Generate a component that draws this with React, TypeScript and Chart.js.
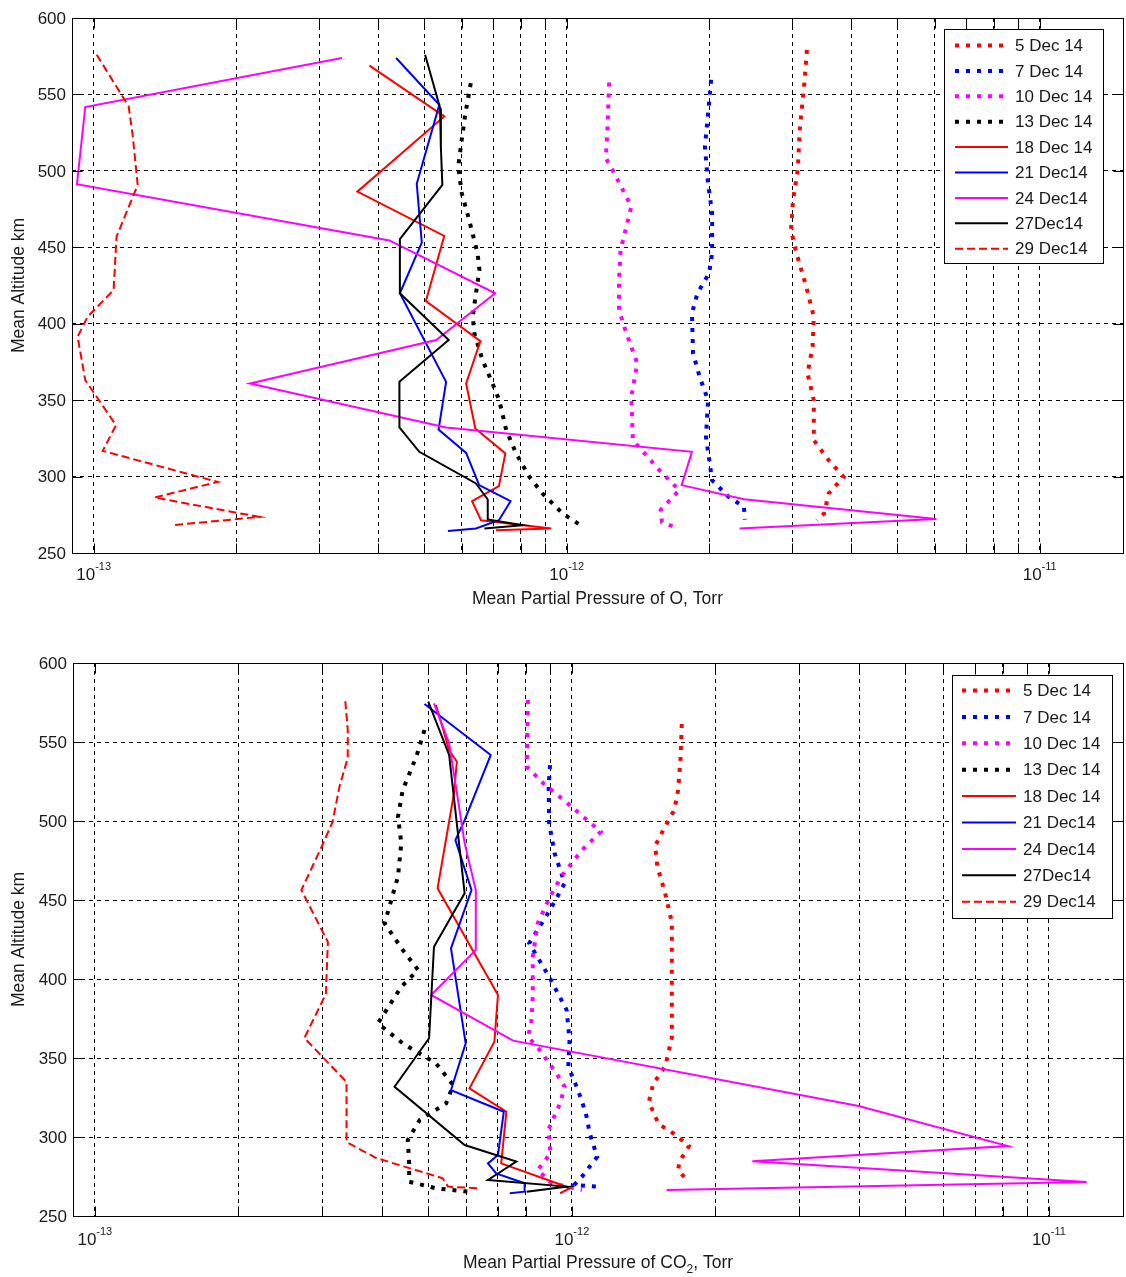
import React, { useEffect, useRef } from "react";
import { Chart, registerables } from "chart.js";

Chart.register(...registerables);

// ---- axes ----
const altTicks = [250, 300, 350, 400, 450, 500, 550, 600];
const pressureGridTicks = [
  1e-13, 2e-13, 3e-13, 4e-13, 5e-13, 6e-13, 7e-13, 8e-13, 9e-13,
  1e-12, 2e-12, 3e-12, 4e-12, 5e-12, 6e-12, 7e-12, 8e-12, 9e-12,
  1e-11,
];
const decadeTicks = [1e-13, 1e-12, 1e-11];
const decadeExponents = ["-13", "-12", "-11"];

// ---- legend / series styling ----
const seriesLabels = [
  "5 Dec 14", "7 Dec 14", "10 Dec 14", "13 Dec 14", "18 Dec 14",
  "21 Dec14", "24 Dec14", "27Dec14", "29 Dec14",
];
const seriesColors = [
  "#ff0000", "#0000ff", "#ff00ff", "#000000", "#ff0000",
  "#0000ff", "#ff00ff", "#000000", "#ff0000",
];
const seriesStyles = ["dot", "dot", "dot", "dot", "solid", "solid", "solid", "solid", "dash"];

// ---- atomic oxygen partial pressure (Torr) vs mean altitude (km) ----
const o5Alt = [579.2, 557.4, 526.8, 500.6, 481, 461.3, 446.1, 424.2, 404.6, 385, 367.5, 350, 323.8, 310.7, 299.8, 288.9, 275.8, 271.4];
const o5P = [3.22e-12, 3.18e-12, 3.11e-12, 3.08e-12, 3.01e-12, 2.98e-12, 3.06e-12, 3.21e-12, 3.33e-12, 3.31e-12, 3.23e-12, 3.33e-12, 3.33e-12, 3.58e-12, 3.85e-12, 3.58e-12, 3.5e-12, 3.38e-12];
const o7Alt = [559.6, 544.3, 515.9, 491.9, 472.3, 446.1, 433, 419.9, 406.8, 380.6, 365.3, 350, 326, 297.6, 286.7, 280.2, 271.9];
const o7P = [2.02e-12, 2.0e-12, 1.96e-12, 1.99e-12, 2.03e-12, 2.03e-12, 2.0e-12, 1.89e-12, 1.84e-12, 1.85e-12, 1.91e-12, 1.99e-12, 1.97e-12, 2.03e-12, 2.2e-12, 2.37e-12, 2.38e-12];
const o10Alt = [557.8, 529, 508.3, 500.6, 476.6, 448.3, 428.6, 409, 395.9, 374, 352.2, 323.8, 304.2, 291.1, 278.2, 270.3, 267];
const o10P = [1.23e-12, 1.22e-12, 1.21e-12, 1.25e-12, 1.37e-12, 1.3e-12, 1.29e-12, 1.29e-12, 1.33e-12, 1.41e-12, 1.37e-12, 1.38e-12, 1.57e-12, 1.73e-12, 1.58e-12, 1.59e-12, 1.69e-12];
const o13Alt = [557.4, 537.8, 520.3, 502.8, 485.4, 467.9, 446.1, 435.2, 419.9, 404.6, 393.7, 376.2, 360.9, 350, 330.4, 315.1, 299.8, 288.9, 275.8, 266.6];
const o13P = [6.27e-13, 6.11e-13, 6.0e-13, 5.9e-13, 6.0e-13, 6.22e-13, 6.48e-13, 6.54e-13, 6.43e-13, 6.33e-13, 6.38e-13, 6.64e-13, 6.97e-13, 7.2e-13, 7.45e-13, 7.82e-13, 8.34e-13, 8.89e-13, 9.81e-13, 1.09e-12];
const o18Alt = [568.8, 535.6, 486.4, 457.4, 414.8, 388.6, 360.9, 331.5, 315.1, 293.7, 283.9, 271.4, 266, 264.9];
const o18P = [3.83e-13, 5.51e-13, 3.61e-13, 5.51e-13, 5.04e-13, 6.57e-13, 6.13e-13, 6.41e-13, 7.42e-13, 7.19e-13, 6.31e-13, 6.59e-13, 9.28e-13, 7.09e-13];
const o21Alt = [573.8, 543.2, 491.5, 453, 419.9, 362, 330.8, 315.5, 294.4, 283.9, 271.4, 266, 264.4];
const o21P = [4.36e-13, 5.38e-13, 4.82e-13, 4.94e-13, 4.44e-13, 5.56e-13, 5.36e-13, 6.13e-13, 6.53e-13, 7.61e-13, 7.19e-13, 6.43e-13, 5.61e-13];
const o24Alt = [573.8, 541.7, 491.3, 454.5, 419.9, 389.3, 360.9, 332.1, 316.2, 294.4, 285.2, 272.3, 266];
const o24P = [3.35e-13, 0.96e-13, 0.922e-13, 4.22e-13, 7.06e-13, 5.3e-13, 2.14e-13, 5.56e-13, 1.84e-12, 1.75e-12, 2.37e-12, 6.05e-12, 2.32e-12];
const o27Alt = [576, 546.5, 541, 515.9, 490.8, 455.3, 419.9, 389.3, 362, 332.1, 316.2, 295.5, 285, 272, 268.2, 266];
const o27P = [5.02e-13, 5.34e-13, 5.4e-13, 5.42e-13, 5.46e-13, 4.44e-13, 4.44e-13, 5.63e-13, 4.43e-13, 4.43e-13, 4.88e-13, 6.43e-13, 6.81e-13, 6.81e-13, 8.08e-13, 6.7e-13];
const o29Alt = [576, 542.1, 523.6, 490.8, 457, 422, 404.6, 391.5, 363.1, 333.6, 316.8, 296.5, 286.3, 273.6, 268.2];
const o29P = [1.015e-13, 1.186e-13, 1.209e-13, 1.239e-13, 1.118e-13, 1.102e-13, 0.971e-13, 0.925e-13, 0.96e-13, 1.115e-13, 1.045e-13, 1.829e-13, 1.344e-13, 2.24e-13, 1.469e-13];

// ---- CO2 partial pressure (Torr) vs mean altitude (km) ----
const c5Alt = [561.4, 539.9, 519.6, 507, 496.8, 484.2, 471.5, 453.8, 435.9, 405.7, 380.4, 362.7, 344.9, 333.5, 322.2, 308.2, 301.9, 294.3, 284.2, 279.1, 274.6];
const c5P = [1.7e-12, 1.69e-12, 1.67e-12, 1.64e-12, 1.57e-12, 1.495e-12, 1.51e-12, 1.57e-12, 1.62e-12, 1.62e-12, 1.62e-12, 1.62e-12, 1.57e-12, 1.48e-12, 1.45e-12, 1.52e-12, 1.64e-12, 1.76e-12, 1.68e-12, 1.67e-12, 1.72e-12];
const c7Alt = [535.4, 521.7, 498.5, 479.6, 460.6, 443.7, 422.6, 401.5, 380.4, 361.4, 344.5, 329.7, 315, 302.3, 287.5, 274.9, 269.6, 268.6];
const c7P = [9.0e-13, 8.94e-13, 8.96e-13, 9.2e-13, 9.66e-13, 9.0e-13, 8.14e-13, 8.96e-13, 9.75e-13, 9.89e-13, 9.83e-13, 1.03e-12, 1.07e-12, 1.09e-12, 1.13e-12, 1.05e-12, 1.01e-12, 1.13e-12];
const c10Alt = [576.6, 534.4, 523.9, 510.1, 493.2, 481.6, 464.8, 452.1, 435.2, 414.1, 388.8, 371.9, 363.5, 355.1, 340.3, 331.8, 321.3, 304.4, 289.7, 279.1, 270.7, 266.5];
const c10P = [8.09e-13, 8.04e-13, 8.71e-13, 9.89e-13, 1.15e-12, 1.05e-12, 9.5e-13, 9.0e-13, 8.48e-13, 8.28e-13, 8.28e-13, 8.22e-13, 8.09e-13, 8.56e-13, 9.28e-13, 9.66e-13, 9.45e-13, 8.92e-13, 9.02e-13, 8.48e-13, 9.08e-13, 1.05e-12];
const c13Alt = [557.6, 540.7, 519.6, 502.7, 485.9, 464.8, 435.2, 418.4, 405.7, 395.1, 371.9, 359.3, 346.6, 332.9, 321.3, 310.8, 298.1, 283.3, 271.7, 267.5, 265.4];
const c13P = [4.91e-13, 4.72e-13, 4.42e-13, 4.32e-13, 4.39e-13, 4.32e-13, 4.05e-13, 4.42e-13, 4.76e-13, 4.39e-13, 3.92e-13, 4.42e-13, 5.19e-13, 5.64e-13, 5.45e-13, 4.8e-13, 4.53e-13, 4.56e-13, 4.56e-13, 5.19e-13, 6.06e-13];
const c18Alt = [573.4, 544.9, 537.5, 517.5, 457.4, 389.9, 360.3, 330.8, 316, 283.3, 270.7, 267.5, 264.4];
const c18P = [5.19e-13, 5.53e-13, 5.74e-13, 5.66e-13, 5.23e-13, 7.0e-13, 6.88e-13, 6.1e-13, 7.29e-13, 7.11e-13, 9.3e-13, 9.89e-13, 9.45e-13];
const c21Alt = [574.1, 541.8, 500.6, 488, 456.3, 419.4, 359.3, 329.7, 316, 288.6, 283.3, 277, 270.7, 265.4, 264.4];
const c21P = [4.91e-13, 6.76e-13, 5.96e-13, 5.7e-13, 6.16e-13, 5.58e-13, 5.99e-13, 5.58e-13, 7.2e-13, 7.0e-13, 6.67e-13, 6.94e-13, 7.96e-13, 7.96e-13, 7.41e-13];
const c24Alt = [574.5, 549.2, 519.6, 485.9, 456.3, 418.4, 389.9, 361, 319.6, 294.3, 284.7, 271.5, 266.5];
const c24P = [5.14e-13, 5.53e-13, 5.73e-13, 5.96e-13, 6.29e-13, 6.29e-13, 5.07e-13, 7.53e-13, 3.99e-12, 8.2e-12, 2.39e-12, 1.2e-11, 1.58e-12];
const c27Alt = [575.5, 541.8, 454.2, 420.4, 362.5, 331.8, 294.9, 284.4, 272.8, 268.6, 265.4];
const c27P = [5.0e-13, 5.53e-13, 5.96e-13, 5.14e-13, 5.02e-13, 4.25e-13, 5.96e-13, 7.65e-13, 6.67e-13, 9.75e-13, 8.04e-13];
const c29Alt = [575.8, 557.6, 539.9, 522.2, 499.4, 482.9, 456.3, 423.4, 390.5, 362.7, 334.8, 296.8, 286.7, 282.2, 273.9, 268.6, 267.5];
const c29P = [3.35e-13, 3.39e-13, 3.39e-13, 3.26e-13, 3.15e-13, 2.98e-13, 2.71e-13, 3.08e-13, 3.05e-13, 2.75e-13, 3.37e-13, 3.37e-13, 3.89e-13, 4.35e-13, 5.36e-13, 5.5e-13, 6.36e-13];

const oSeries = [
  [o5Alt, o5P], [o7Alt, o7P], [o10Alt, o10P], [o13Alt, o13P], [o18Alt, o18P],
  [o21Alt, o21P], [o24Alt, o24P], [o27Alt, o27P], [o29Alt, o29P],
];
const co2Series = [
  [c5Alt, c5P], [c7Alt, c7P], [c10Alt, c10P], [c13Alt, c13P], [c18Alt, c18P],
  [c21Alt, c21P], [c24Alt, c24P], [c27Alt, c27P], [c29Alt, c29P],
];

const yAxisTitle = "Mean Altitude km";
const oAxisTitle = [{ text: "Mean Partial Pressure of O, Torr", sub: false }];
const co2AxisTitle = [
  { text: "Mean Partial Pressure of CO", sub: false },
  { text: "2", sub: true },
  { text: ", Torr", sub: false },
];

const FONT = '"Liberation Sans", Arial, Helvetica, sans-serif';
const TEXT_COLOR = "#1a1a1a";

function dashFor(style: string): number[] {
  if (style === "dot") return [4, 7];
  if (style === "dash") return [8, 4];
  return [];
}
function widthFor(style: string): number {
  return style === "dot" ? 4 : 2;
}

type PanelCfg = {
  height: number;
  padding: { left: number; right: number; top: number; bottom: number };
  xMin: number;
  xMax: number;
  xTitle: { text: string; sub: boolean }[];
  xLabelBase: number; // baseline of "10" below plot bottom
  xTitleBase: number; // baseline of axis title below plot bottom
  legend: { x: number; y: number; w: number; h: number; row0: number; step: number; sx0: number; sx1: number; tx: number };
  series: number[][][];
};

function alignPx(v: number) {
  return Math.round(v) + 0.5;
}

function makeDecorPlugin(cfg: PanelCfg) {
  return {
    id: "panelDecor",
    afterDatasetsDraw(chart: any) {
      const { ctx, chartArea: a } = chart;
      const xs = chart.scales.x;
      const ys = chart.scales.y;
      const L = alignPx(a.left);
      const R = alignPx(a.right);
      const T = alignPx(a.top);
      const B = alignPx(a.bottom);
      ctx.save();
      ctx.setLineDash([]);
      ctx.strokeStyle = "#000";
      ctx.lineWidth = 1;

      // inward tick marks on all four sides
      const tl = 10;
      ctx.beginPath();
      for (const v of pressureGridTicks) {
        const px = alignPx(xs.getPixelForValue(v));
        if (px <= L || px >= R) continue;
        ctx.moveTo(px, B);
        ctx.lineTo(px, B - tl);
        ctx.moveTo(px, T);
        ctx.lineTo(px, T + tl);
      }
      for (const v of altTicks) {
        const py = alignPx(ys.getPixelForValue(v));
        ctx.moveTo(L, py);
        ctx.lineTo(L + tl, py);
        ctx.moveTo(R, py);
        ctx.lineTo(R - tl, py);
      }
      ctx.stroke();

      // axes box
      ctx.strokeRect(L, T, R - L, B - T);

      // y tick labels
      ctx.fillStyle = TEXT_COLOR;
      ctx.font = `17px ${FONT}`;
      ctx.textAlign = "right";
      ctx.textBaseline = "middle";
      for (const v of altTicks) {
        ctx.fillText(String(v), a.left - 6, ys.getPixelForValue(v) + 1);
      }

      // x decade labels: 10 with superscript exponent
      ctx.textBaseline = "alphabetic";
      ctx.textAlign = "left";
      decadeTicks.forEach((v, i) => {
        const px = xs.getPixelForValue(v);
        ctx.font = `17px ${FONT}`;
        const w1 = ctx.measureText("10").width;
        ctx.font = `11px ${FONT}`;
        const w2 = ctx.measureText(decadeExponents[i]).width;
        const x0 = px - (w1 + w2) / 2;
        const base = a.bottom + cfg.xLabelBase;
        ctx.font = `17px ${FONT}`;
        ctx.fillText("10", x0, base);
        ctx.font = `11px ${FONT}`;
        ctx.fillText(decadeExponents[i], x0 + w1, base - 10);
      });

      // x axis title (with optional subscript parts)
      const big = `17.5px ${FONT}`;
      const small = `12px ${FONT}`;
      let total = 0;
      for (const p of cfg.xTitle) {
        ctx.font = p.sub ? small : big;
        total += ctx.measureText(p.text).width;
      }
      let tx = (a.left + a.right) / 2 - total / 2;
      const tb = a.bottom + cfg.xTitleBase;
      for (const p of cfg.xTitle) {
        ctx.font = p.sub ? small : big;
        ctx.fillText(p.text, tx, p.sub ? tb + 5 : tb);
        tx += ctx.measureText(p.text).width;
      }

      // y axis title
      ctx.save();
      ctx.translate(24, (a.top + a.bottom) / 2);
      ctx.rotate(-Math.PI / 2);
      ctx.font = big;
      ctx.textAlign = "center";
      ctx.textBaseline = "alphabetic";
      ctx.fillText(yAxisTitle, 0, 0);
      ctx.restore();

      // legend
      const lg = cfg.legend;
      ctx.fillStyle = "#fff";
      ctx.fillRect(lg.x, lg.y, lg.w, lg.h);
      ctx.strokeStyle = "#000";
      ctx.lineWidth = 1;
      ctx.strokeRect(alignPx(lg.x), alignPx(lg.y), Math.round(lg.w), Math.round(lg.h));
      seriesLabels.forEach((label, i) => {
        const ry = lg.row0 + i * lg.step;
        ctx.beginPath();
        ctx.setLineDash(dashFor(seriesStyles[i]));
        ctx.lineWidth = widthFor(seriesStyles[i]);
        ctx.strokeStyle = seriesColors[i];
        ctx.moveTo(lg.sx0, ry);
        ctx.lineTo(lg.sx1, ry);
        ctx.stroke();
        ctx.setLineDash([]);
        ctx.fillStyle = TEXT_COLOR;
        ctx.font = `17px ${FONT}`;
        ctx.textAlign = "left";
        ctx.textBaseline = "middle";
        ctx.fillText(label, lg.tx, ry + 1);
      });
      ctx.restore();
    },
  };
}

const topPanel: PanelCfg = {
  height: 620,
  padding: { left: 72, right: 3, top: 18, bottom: 67 },
  xMin: 9e-14,
  xMax: 1.5e-11,
  xTitle: oAxisTitle,
  xLabelBase: 27,
  xTitleBase: 50.5,
  legend: { x: 944, y: 29, w: 159, h: 234, row0: 45.5, step: 25.4, sx0: 955, sx1: 1008, tx: 1015 },
  series: oSeries,
};

const bottomPanel: PanelCfg = {
  height: 657,
  padding: { left: 73, right: 3, top: 43, bottom: 61 },
  xMin: 9e-14,
  xMax: 1.43e-11,
  xTitle: co2AxisTitle,
  xLabelBase: 29,
  xTitleBase: 52,
  legend: { x: 951.5, y: 54.5, w: 159.5, h: 242.5, row0: 70.5, step: 26.4, sx0: 962, sx1: 1016, tx: 1023 },
  series: co2Series,
};

function Panel({ cfg, top }: { cfg: PanelCfg; top: number }) {
  const ref = useRef<HTMLCanvasElement | null>(null);
  useEffect(() => {
    if (!ref.current) return;
    const datasets = cfg.series.map(([alts, ps], i) => ({
      label: seriesLabels[i],
      data: alts.map((alt, k) => ({ x: ps[k], y: alt })),
      borderColor: seriesColors[i],
      backgroundColor: seriesColors[i],
      borderWidth: widthFor(seriesStyles[i]),
      borderDash: dashFor(seriesStyles[i]),
      borderCapStyle: "butt" as const,
      borderJoinStyle: "miter" as const,
      pointRadius: 0,
      fill: false,
      tension: 0,
      order: seriesLabels.length - i,
    }));
    const chart = new Chart(ref.current, {
      type: "line",
      data: { datasets },
      options: {
        animation: false,
        responsive: false,
        maintainAspectRatio: false,
        events: [],
        layout: { padding: cfg.padding },
        plugins: { legend: { display: false }, tooltip: { enabled: false } },
        scales: {
          x: {
            type: "logarithmic",
            min: cfg.xMin,
            max: cfg.xMax,
            afterBuildTicks: (s: any) => {
              s.ticks = pressureGridTicks.map((v) => ({ value: v }));
            },
            afterFit: (s: any) => {
              s.height = 0;
            },
            ticks: { display: false },
            grid: { color: "#000", lineWidth: 1, drawTicks: false },
            border: { display: false, dash: [4, 4] },
          },
          y: {
            type: "linear",
            min: 250,
            max: 600,
            afterBuildTicks: (s: any) => {
              s.ticks = altTicks.map((v) => ({ value: v }));
            },
            afterFit: (s: any) => {
              s.width = 0;
            },
            ticks: { display: false },
            grid: { color: "#000", lineWidth: 1, drawTicks: false },
            border: { display: false, dash: [4, 4] },
          },
        },
      } as any,
      plugins: [makeDecorPlugin(cfg)],
    });
    return () => chart.destroy();
  }, [cfg]);
  return (
    <canvas
      ref={ref}
      width={1126}
      height={cfg.height}
      style={{ position: "absolute", left: 0, top, width: 1126, height: cfg.height, display: "block" }}
    />
  );
}

export default function App() {
  return (
    <div style={{ position: "absolute", left: 0, top: 0, width: 1126, height: 1277, background: "#fff", overflow: "hidden" }}>
      <Panel cfg={topPanel} top={0} />
      <Panel cfg={bottomPanel} top={620} />
    </div>
  );
}
